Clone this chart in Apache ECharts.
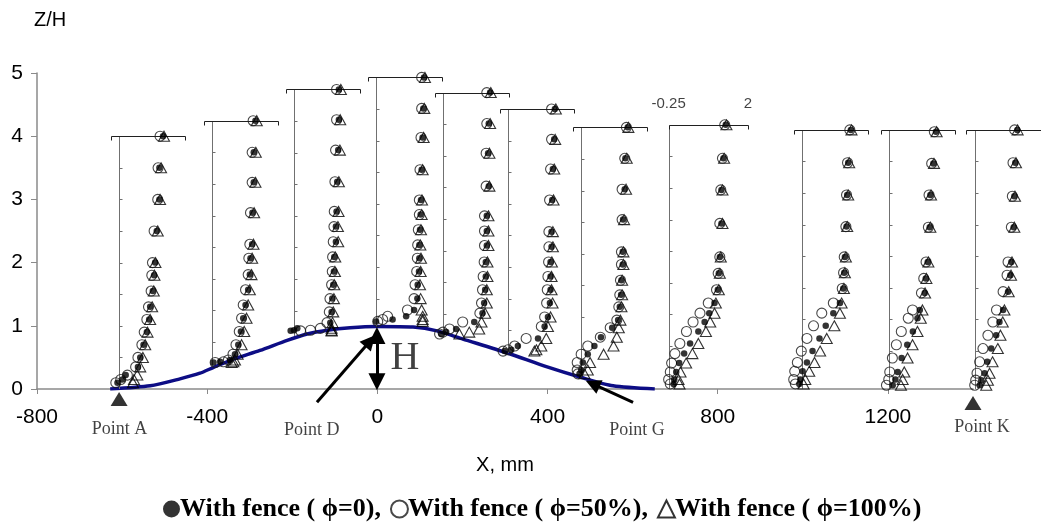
<!DOCTYPE html>
<html>
<head>
<meta charset="utf-8">
<script src="https://cdn.jsdelivr.net/npm/echarts@6/dist/echarts.min.js"></script>
<style>
html,body{margin:0;padding:0;background:#fff;}
#chart{width:1041px;height:528px;}
</style>
</head>
<body>
<div id="chart"></div>
<script>
// ---- axis ticks ----
const X_TICKS = [-800, -400, 0, 400, 800, 1200];

// ---- hill surface (mm, Z/H) ----
const HILL_X = [-628, -534, -464, -417, -386, -339, -276, -212, -165, -118, -64, -1, 84, 140, 201, 305, 399, 476, 554, 652];
const HILL_Z = [0, 0.05, 0.16, 0.25, 0.34, 0.47, 0.61, 0.77, 0.87, 0.93, 0.97, 0.99, 0.98, 0.92, 0.79, 0.57, 0.35, 0.19, 0.05, 0];

// ---- measuring stations ----
const STATION_X = [-607, -389, -196, -3, 154, 307, 479, 704, 998, 1202, 1404]; // mm, where u = 0
const TOP_Z     = [4.0, 4.245, 4.74, 4.93, 4.69, 4.43, 4.14, 4.18, 4.1, 4.1, 4.1];
const GROUND_Z  = [0.0, 0.35, 0.84, 0.99, 0.88, 0.57, 0.19, 0, 0, 0, 0];
const AXIS_U    = [0, 0, 0, 0, 0, 0, 0, -0.25, 0, 0, 0];
const BAR_L     = -0.25;
const BAR_R     = [2, 2, 2, 2, 2, 2, 2, 2.15, 2, 2, 2];
const U_SCALE   = 77.6; // mm per unit of U/Uref

// ---- profile heights Z/H per station ----
const PROFILE_Z = [
  [4.0,3.5,3.0,2.5,2.0,1.8,1.55,1.3,1.1,0.9,0.7,0.5,0.35,0.22,0.15,0.1],
  [4.245,3.745,3.27,2.79,2.29,2.07,1.81,1.57,1.33,1.12,0.91,0.7,0.55,0.46,0.43,0.42],
  [4.74,4.26,3.78,3.28,2.81,2.57,2.33,2.09,1.86,1.65,1.43,1.22,1.05,0.96,0.93,0.92],
  [4.93,4.44,3.98,3.47,2.99,2.76,2.52,2.28,2.07,1.86,1.65,1.43,1.25,1.15,1.10,1.07],
  [4.69,4.2,3.73,3.21,2.74,2.5,2.27,2.01,1.78,1.57,1.36,1.2,1.06,0.95,0.9,0.87],
  [4.43,3.95,3.48,2.99,2.49,2.25,2.01,1.78,1.57,1.36,1.14,0.99,0.8,0.68,0.62,0.6],
  [4.14,3.65,3.16,2.68,2.17,1.97,1.72,1.49,1.30,1.09,0.97,0.82,0.68,0.55,0.42,0.3,0.24],
  [4.18,3.65,3.15,2.62,2.09,1.83,1.57,1.36,1.2,1.06,0.91,0.72,0.56,0.41,0.27,0.15,0.08],
  [4.1,3.58,3.07,2.57,2.09,1.84,1.59,1.36,1.2,1.0,0.8,0.6,0.42,0.28,0.15,0.08],
  [4.07,3.57,3.07,2.56,2.01,1.75,1.52,1.25,1.12,0.91,0.7,0.49,0.27,0.15,0.06],
  [4.1,3.58,3.05,2.56,2.01,1.80,1.54,1.25,1.06,0.85,0.64,0.43,0.25,0.14,0.06]
];

// ---- U/Uref, with fence phi = 0 (filled circles) ----
const U_PHI0 = [
  [1.33,1.22,1.22,1.14,1.09,1.06,1.02,0.94,0.91,0.84,0.74,0.64,0.57,0.2,0.1,-0.05],
  [1.32,1.27,1.27,1.23,1.22,1.17,1.15,1.10,1.02,0.95,0.88,0.80,0.70,0.55,0.25,0.05],
  [1.36,1.36,1.34,1.31,1.29,1.27,1.27,1.22,1.21,1.19,1.16,1.14,1.10,0.10,0.00,-0.10],
  [1.45,1.43,1.41,1.38,1.36,1.35,1.33,1.31,1.31,1.30,1.26,1.25,1.15,0.91,0.50,0.00],
  [1.43,1.39,1.37,1.39,1.33,1.33,1.33,1.30,1.30,1.28,1.25,1.20,0.95,0.40,0.10,-0.05],
  [1.42,1.40,1.36,1.34,1.32,1.32,1.29,1.29,1.29,1.27,1.21,1.11,0.91,0.30,0.10,-0.10],
  [1.41,1.34,1.32,1.27,1.26,1.26,1.22,1.21,1.17,1.12,0.94,0.60,0.40,0.20,0.05,0.00,-0.05],
  [1.48,1.41,1.35,1.35,1.30,1.27,1.24,1.14,0.98,0.84,0.65,0.40,0.22,0.07,-0.02,-0.08,-0.10],
  [1.48,1.40,1.37,1.35,1.30,1.28,1.25,1.15,0.95,0.72,0.53,0.32,0.15,0.02,-0.05,-0.08],
  [1.43,1.35,1.26,1.24,1.18,1.12,1.09,0.94,0.87,0.73,0.56,0.39,0.27,0.20,0.12],
  [1.29,1.23,1.20,1.18,1.11,1.08,1.01,0.86,0.75,0.65,0.50,0.38,0.30,0.20,0.15]
];

// ---- U/Uref, with fence phi = 50% (open circles) ----
const U_PHI50 = [
  [1.24,1.18,1.17,1.06,1.01,0.99,0.97,0.89,0.84,0.76,0.69,0.57,0.50,0.25,0.05,-0.1],
  [1.25,1.22,1.22,1.17,1.15,1.12,1.10,1.02,0.95,0.90,0.83,0.73,0.64,0.50,0.35,0.10],
  [1.29,1.29,1.26,1.24,1.22,1.21,1.19,1.17,1.16,1.14,1.09,1.07,1.00,0.80,0.50,0.20],
  [1.38,1.38,1.36,1.33,1.31,1.31,1.28,1.26,1.25,1.23,1.18,1.15,0.95,0.35,0.20,0.05],
  [1.33,1.33,1.31,1.31,1.26,1.26,1.26,1.25,1.22,1.20,1.17,1.12,0.60,0.20,0.00,-0.10],
  [1.32,1.32,1.29,1.26,1.24,1.24,1.23,1.21,1.19,1.17,1.11,1.01,0.55,0.20,0.00,-0.15],
  [1.37,1.32,1.24,1.24,1.22,1.22,1.19,1.17,1.14,1.08,0.88,0.58,0.20,0.00,-0.12,-0.12,-0.10],
  [1.45,1.38,1.33,1.30,1.30,1.25,1.20,0.95,0.70,0.49,0.29,0.09,-0.06,-0.16,-0.20,-0.25,-0.20],
  [1.45,1.38,1.35,1.33,1.28,1.26,1.22,0.95,0.60,0.35,0.15,-0.02,-0.14,-0.22,-0.25,-0.20],
  [1.38,1.30,1.22,1.20,1.13,1.06,0.99,0.72,0.59,0.38,0.23,0.11,0.03,0.00,-0.07],
  [1.21,1.16,1.14,1.11,1.01,0.98,0.86,0.66,0.55,0.40,0.25,0.15,0.07,0.03,0.00]
];

// ---- U/Uref, with fence phi = 100% (open triangles) ----
const U_PHI100 = [
  [1.36,1.27,1.24,1.17,1.10,1.07,1.05,1.00,0.94,0.86,0.79,0.72,0.64,0.55,0.45,0.42],
  [1.36,1.33,1.32,1.28,1.26,1.22,1.20,1.15,1.10,1.05,0.98,0.90,0.78,0.70,0.65,0.60],
  [1.42,1.40,1.39,1.36,1.35,1.33,1.34,1.25,1.24,1.22,1.21,1.19,1.17,1.14,1.14,1.14],
  [1.48,1.46,1.44,1.41,1.39,1.38,1.36,1.34,1.36,1.35,1.33,1.35,1.38,1.41,1.41,1.41],
  [1.45,1.43,1.41,1.41,1.38,1.38,1.38,1.35,1.35,1.33,1.33,1.28,1.17,1.10,0.80,0.50],
  [1.45,1.43,1.40,1.38,1.36,1.36,1.33,1.32,1.32,1.35,1.29,1.21,1.16,1.01,0.86,0.80],
  [1.43,1.38,1.36,1.30,1.28,1.28,1.24,1.24,1.22,1.19,1.14,1.08,0.98,0.68,0.27,0.20,0.10],
  [1.50,1.43,1.38,1.38,1.33,1.30,1.27,1.18,1.14,1.01,0.88,0.65,0.47,0.28,0.11,0.05,0.08],
  [1.50,1.43,1.40,1.37,1.33,1.30,1.27,1.20,1.15,0.98,0.75,0.55,0.38,0.22,0.10,0.05],
  [1.45,1.37,1.28,1.26,1.20,1.14,1.10,1.02,0.97,0.87,0.72,0.57,0.47,0.42,0.37],
  [1.30,1.25,1.22,1.20,1.13,1.10,1.03,0.90,0.85,0.78,0.70,0.54,0.45,0.40,0.35]
];

const LEGEND_NAMES = ['With fence ( \u03D5=0)', 'With fence ( \u03D5=50%)', 'With fence ( \u03D5=100%)'];

// ---- annotations (data coordinates: mm, Z/H) ----
const POINT_MARK_X = [-607, 1400];
const POINT_MARK_Z = [-0.16, -0.22];
const NOTE_TEXT = ['Point A', 'Point D', 'Point G', 'Point K'];
const NOTE_X    = [-606, -154, 610, 1421];
const NOTE_Z    = [-0.63, -0.65, -0.66, -0.60];
const H_LABEL   = {text: 'H', x: 65, z: 0.49};
const H_ARROW   = [[-1, 0.845], [-1, 0.115]];
const ARROWS    = [ [[-142, -0.21], [-17, 0.76]], [[601, -0.21], [506, 0.08]] ];

function profileData(uArr) {
  const out = [];
  for (let s = 0; s < STATION_X.length; s++) {
    const zs = PROFILE_Z[s], us = uArr[s];
    for (let k = 0; k < zs.length; k++) {
      out.push([STATION_X[s] + us[k] * U_SCALE, zs[k]]);
    }
  }
  return out;
}

const frameData = STATION_X.map((x, i) => [x, TOP_Z[i], GROUND_Z[i], AXIS_U[i], BAR_R[i]]);

const SANS = "'Liberation Sans', Arial, sans-serif";
const SERIF = "'Liberation Serif', 'Times New Roman', serif";
const AXIS_GRAY = '#8a8a8a';

const chart = echarts.init(document.getElementById('chart'), null, {renderer: 'canvas'});

const option = {
  animation: false,
  backgroundColor: '#ffffff',
  grid: {left: 37, right: 68, top: 73, bottom: 139, containLabel: false},
  xAxis: {
    type: 'value', min: -800, max: 1400, interval: 400,
    name: 'X, mm', nameLocation: 'middle', nameGap: 76,
    nameTextStyle: {fontFamily: SANS, fontSize: 20, color: '#000', verticalAlign: 'middle'},
    axisLine: {show: true, onZero: false, lineStyle: {color: AXIS_GRAY, width: 1.5}},
    axisTick: {show: true, length: 5, customValues: X_TICKS, lineStyle: {color: AXIS_GRAY}},
    axisLabel: {customValues: X_TICKS, formatter: v => String(v), fontFamily: SANS, fontSize: 21, color: '#000', margin: 18},
    splitLine: {show: false}
  },
  yAxis: {
    type: 'value', min: 0, max: 5, interval: 1,
    name: 'Z/H', nameLocation: 'end', nameGap: 53,
    nameTextStyle: {fontFamily: SANS, fontSize: 20, color: '#000', align: 'left', verticalAlign: 'middle', padding: [0, 0, 0, -3]},
    axisLine: {show: true, onZero: false, lineStyle: {color: AXIS_GRAY, width: 1.5}},
    axisTick: {show: true, length: 6, lineStyle: {color: AXIS_GRAY}},
    axisLabel: {fontFamily: SANS, fontSize: 21, color: '#000', margin: 14},
    splitLine: {show: false}
  },
  legend: {
    left: 158, bottom: 1,
    selectedMode: false,
    itemWidth: 17, itemHeight: 17, itemGap: 9,
    data: [
      {name: LEGEND_NAMES[0], icon: 'circle'},
      {name: LEGEND_NAMES[1], icon: 'circle'},
      {name: LEGEND_NAMES[2], icon: 'triangle'}
    ],
    formatter: n => (n === LEGEND_NAMES[2] ? n : n + ','),
    textStyle: {fontFamily: SERIF, fontWeight: 'bold', fontSize: 26, color: '#000', padding: [0, 0, 0, -5]}
  },
  series: [
    {
      type: 'line', name: 'hill', z: 2,
      data: HILL_X.map((x, i) => [x, HILL_Z[i]]),
      smooth: 0.25, showSymbol: false, silent: true,
      lineStyle: {color: '#0d0d85', width: 3.5}
    },
    {
      type: 'custom', name: 'frames', z: 3, clip: false, silent: true,
      data: frameData,
      encode: {x: 0, y: 1},
      renderItem: function (params, api) {
        const sx = api.value(0), top = api.value(1), gnd = api.value(2), axU = api.value(3), br = api.value(4);
        const ax = sx + axU * U_SCALE;
        const pT = api.coord([ax, top]);
        const pB = api.coord([ax, gnd]);
        const pL = api.coord([sx + BAR_L * U_SCALE, top]);
        const pR = api.coord([sx + br * U_SCALE, top]);
        const vx = Math.round(pT[0]) + 0.5, ty = Math.round(pT[1]) + 0.5;
        const lx = Math.round(pL[0]) + 0.5, rx = Math.round(pR[0]) + 0.5;
        const children = [
          {type: 'line', shape: {x1: vx, y1: ty, x2: vx, y2: pB[1]}, style: {stroke: '#707070', lineWidth: 1}},
          {type: 'line', shape: {x1: lx, y1: ty, x2: rx, y2: ty}, style: {stroke: '#202020', lineWidth: 1}},
          {type: 'line', shape: {x1: lx, y1: ty, x2: lx, y2: ty + 4}, style: {stroke: '#202020', lineWidth: 1}},
          {type: 'line', shape: {x1: rx, y1: ty, x2: rx, y2: ty + 4}, style: {stroke: '#202020', lineWidth: 1}}
        ];
        for (let z = top - 0.5; z > gnd + 0.15; z -= 0.5) {
          const p = api.coord([ax, z]);
          const y = Math.round(p[1]) + 0.5;
          children.push({type: 'line', shape: {x1: vx, y1: y, x2: vx + 3, y2: y}, style: {stroke: '#707070', lineWidth: 1}});
        }
        return {type: 'group', children: children};
      }
    },
    {
      type: 'scatter', name: LEGEND_NAMES[2], z: 4, clip: false,
      symbol: 'triangle', symbolSize: [11, 10],
      itemStyle: {color: 'rgba(255,255,255,0)', borderColor: '#000', borderWidth: 1.1},
      data: profileData(U_PHI100)
    },
    {
      type: 'scatter', name: LEGEND_NAMES[1], z: 5, clip: false,
      symbol: 'circle', symbolSize: 10,
      itemStyle: {color: 'rgba(255,255,255,0)', borderColor: '#1a1a1a', borderWidth: 1.1},
      data: profileData(U_PHI50)
    },
    {
      type: 'scatter', name: LEGEND_NAMES[0], z: 6, clip: false,
      symbol: 'circle', symbolSize: 6.5,
      itemStyle: {color: '#000'},
      data: profileData(U_PHI0)
    },
    {
      type: 'scatter', name: 'pointMarks', z: 6, clip: false, silent: true,
      symbol: 'triangle', symbolSize: [17, 14],
      itemStyle: {color: '#000'},
      data: POINT_MARK_X.map((x, i) => [x, POINT_MARK_Z[i]])
    },
    {
      type: 'scatter', name: 'notes', z: 7, clip: false, silent: true,
      symbolSize: 0,
      data: NOTE_TEXT.map((t, i) => ({
        value: [NOTE_X[i], NOTE_Z[i]],
        label: {show: true, position: 'inside', formatter: t, fontFamily: SERIF, fontSize: 18, color: '#111'}
      })).concat([{
        value: [H_LABEL.x, H_LABEL.z],
        label: {show: true, position: 'inside', formatter: H_LABEL.text, fontFamily: SERIF, fontSize: 40, color: '#111'}
      }, {
        value: [STATION_X[7] + BAR_L * U_SCALE, TOP_Z[7] + 0.33],
        label: {show: true, position: 'inside', formatter: String(BAR_L), fontFamily: SANS, fontSize: 15, color: '#111'}
      }, {
        value: [STATION_X[7] + BAR_R[0] * U_SCALE + 12, TOP_Z[7] + 0.33],
        label: {show: true, position: 'inside', formatter: String(BAR_R[0]), fontFamily: SANS, fontSize: 15, color: '#111'}
      }])
    },
    {
      type: 'lines', name: 'hArrow', coordinateSystem: 'cartesian2d', z: 8, clip: false, silent: true,
      symbol: ['triangle', 'triangle'], symbolSize: 17,
      lineStyle: {color: '#000', width: 3, opacity: 1},
      data: [{coords: H_ARROW}]
    },
    {
      type: 'lines', name: 'arrows', coordinateSystem: 'cartesian2d', z: 8, clip: false, silent: true,
      symbol: ['none', 'triangle'], symbolSize: 15,
      lineStyle: {color: '#000', width: 3, opacity: 1},
      data: ARROWS.map(c => ({coords: c}))
    }
  ]
};

chart.setOption(option);
</script>
</body>
</html>
